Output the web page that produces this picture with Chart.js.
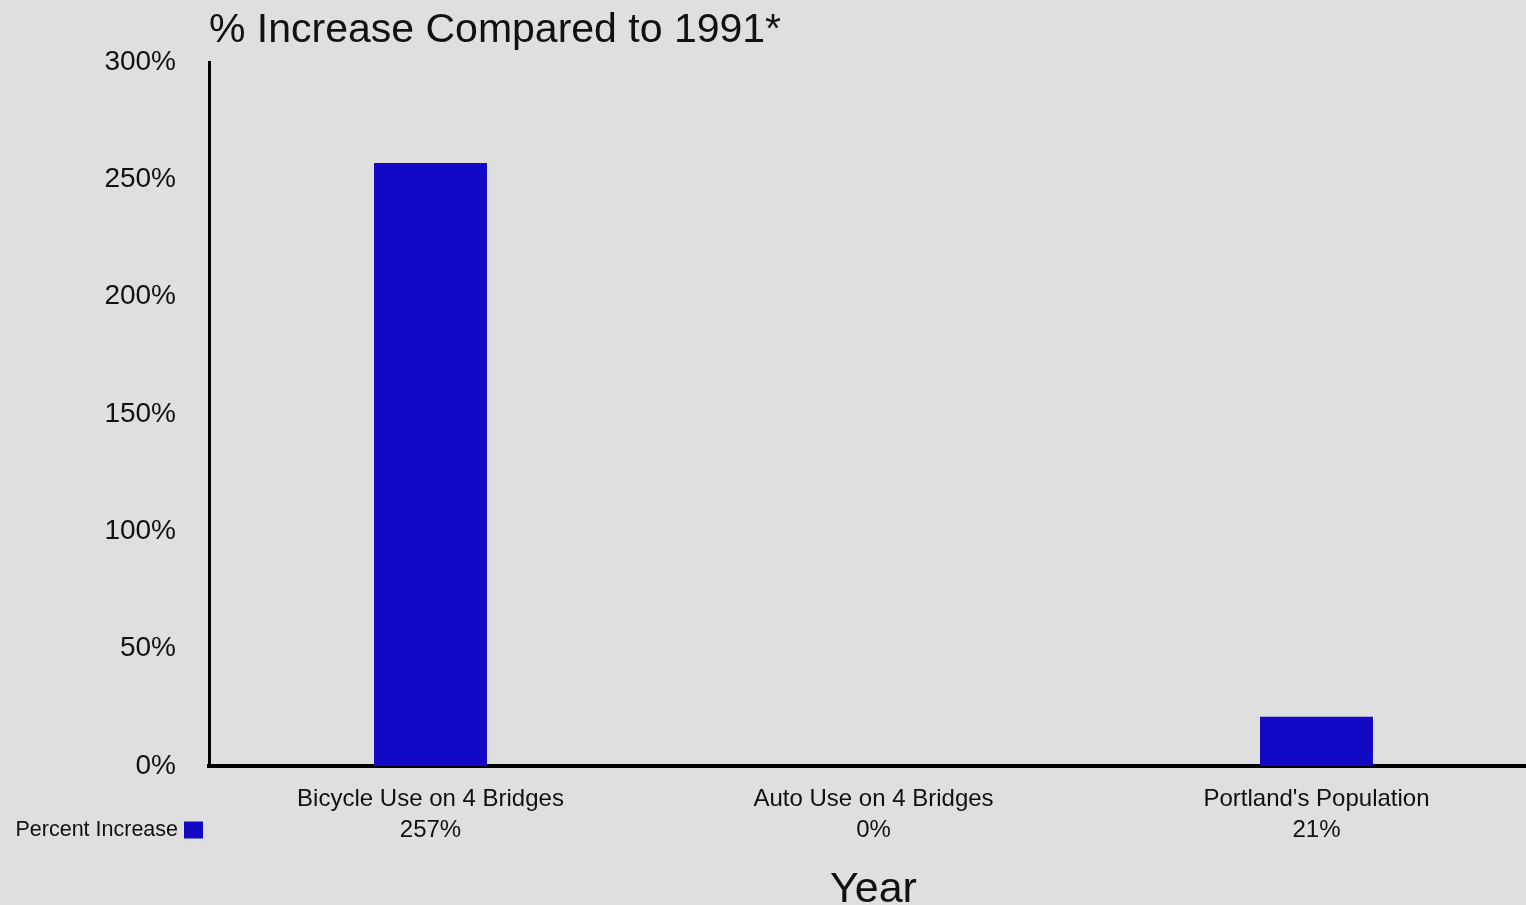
<!DOCTYPE html>
<html lang="en">
<head>
    <meta charset="UTF-8">
    <script src="https://cdn.jsdelivr.net/npm/chart.js@4"></script>
    <title>% Increase Compared to 1991</title>
    <style type="text/css">
        body {
            margin: 0;
            background: #dfdfdf;
            overflow: hidden;
        }
        #wrap {
            width: 1540px;
            height: 905px;
        }
    </style>
</head>
<body>
    <div id="wrap">
        <canvas id="barCanvas" width="1540" height="905"></canvas>
    </div>
</body>
<script>

const categories = ["Bicycle Use on 4 Bridges", "Auto Use on 4 Bridges", "Portland's Population"];
const percentIncrease = [257, 0, 21];
const yTicks = [0, 50, 100, 150, 200, 250, 300];
const seriesName = "Percent Increase";

const textColor = "#111";
const barColor = "#1208c6";
const fontName = '"Liberation Sans", Arial, sans-serif';

// little legend to the left of the value row under the axis
const rowLegend = {
    id: 'rowLegend',
    afterDraw(chart) {
        const ctx = chart.ctx;
        const y = chart.scales.x.top + 18 + 31 * 1.5;
        ctx.save();
        ctx.font = '21.5px ' + fontName;
        ctx.fillStyle = textColor;
        ctx.textAlign = 'right';
        ctx.textBaseline = 'middle';
        ctx.fillText(seriesName, 178, y);
        ctx.fillStyle = barColor;
        ctx.fillRect(184, y - 9, 19, 17);
        ctx.restore();
    }
};

var ctx = document.getElementById("barCanvas");
var chart = new Chart(ctx, {
    type: 'bar',
    data: {
        labels: categories,
        datasets: [{
            label: seriesName,
            data: percentIncrease,
            backgroundColor: barColor,
            borderWidth: 0,
            categoryPercentage: 1.0,
            barPercentage: 0.255
        }]
    },
    plugins: [rowLegend],
    options: {
        responsive: false,
        animation: false,
        layout: { padding: { left: 0, right: 2, top: 0, bottom: 0 } },
        plugins: {
            legend: { display: false },
            tooltip: { enabled: false },
            title: {
                display: true,
                text: "% Increase Compared to 1991*",
                align: 'start',
                fullSize: false,
                color: textColor,
                font: { family: fontName, size: 41, weight: 'normal', lineHeight: 1.2 },
                padding: { top: 6.4, bottom: 6.4 }
            }
        },
        scales: {
            x: {
                grid: { display: false, drawTicks: false },
                border: { display: true, color: '#000', width: 4 },
                ticks: {
                    color: textColor,
                    padding: 18,
                    maxRotation: 0,
                    autoSkip: false,
                    font: { family: fontName, size: 24, lineHeight: 1.3 },
                    callback: function(value, index) {
                        return [categories[index], percentIncrease[index] + '%'];
                    }
                },
                title: {
                    display: true,
                    text: 'Year',
                    color: textColor,
                    font: { family: fontName, size: 43, lineHeight: 1 },
                    padding: { top: 0, bottom: -6.5 }
                },
                afterFit: function(scale) { scale.height = 139; }
            },
            y: {
                min: 0,
                max: 300,
                afterBuildTicks: function(scale) {
                    scale.ticks = yTicks.map(v => ({ value: v }));
                },
                grid: { display: false, drawTicks: false },
                border: { display: true, color: '#000', width: 3 },
                ticks: {
                    color: textColor,
                    padding: 33,
                    font: { family: fontName, size: 28 },
                    callback: function(value) { return value + '%'; }
                },
                afterFit: function(scale) { scale.width = 209; }
            }
        }
    }
});

</script>
</html>
